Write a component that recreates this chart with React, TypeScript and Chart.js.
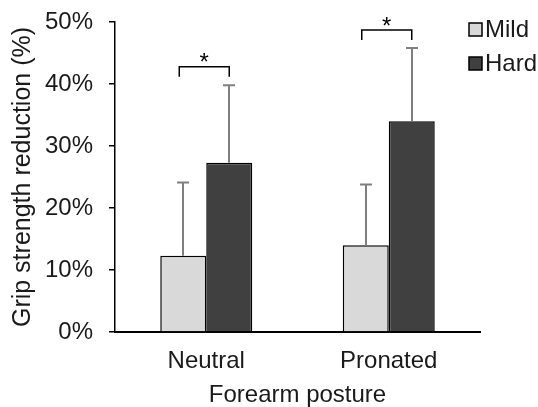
import React, { useEffect, useRef } from "react";
import { Chart, registerables } from "chart.js";

Chart.register(...registerables);

const categories = ["Neutral", "Pronated"];
const seriesNames = ["Mild", "Hard"];
const mildValues = [12.3, 14.0];
const hardValues = [27.3, 34.0];
const mildSD = [11.8, 9.8];
const hardSD = [12.5, 11.8];
const yTicks = [0, 10, 20, 30, 40, 50];
// significance brackets: bracket top value (%) per category
const sigTop = [42.8, 48.7];
const sigLabel = ["*", "*"];

const FONT = "'Liberation Sans', Arial, sans-serif";
const TEXT = "#1a1a1a";
const colors = ["#d9d9d9", "#404040"];

const overlayPlugin = {
  id: "overlay",
  afterDatasetsDraw(chart: any) {
    const ctx = chart.ctx;
    const y = chart.scales.y;
    const sds = [mildSD, hardSD];
    const vals = [mildValues, hardValues];
    // error bars
    ctx.save();
    ctx.strokeStyle = "#7f7f7f";
    ctx.lineWidth = 2;
    [0, 1].forEach((di) => {
      const meta = chart.getDatasetMeta(di);
      meta.data.forEach((bar: any, i: number) => {
        const x = Math.round(bar.x);
        const yTop = y.getPixelForValue(vals[di][i] + sds[di][i]);
        const yBase = y.getPixelForValue(vals[di][i]);
        ctx.beginPath();
        ctx.moveTo(x, yBase);
        ctx.lineTo(x, yTop);
        ctx.moveTo(x - 6, yTop);
        ctx.lineTo(x + 6, yTop);
        ctx.stroke();
      });
    });
    // brackets
    ctx.strokeStyle = "#000";
    ctx.lineWidth = 1.5;
    ctx.fillStyle = "#000";
    ctx.font = `24px ${FONT}`;
    ctx.textAlign = "center";
    ctx.textBaseline = "middle";
    const m0 = chart.getDatasetMeta(0);
    const m1 = chart.getDatasetMeta(1);
    categories.forEach((_, i) => {
      const x1 = m0.data[i].x - 4;
      const x2 = m1.data[i].x;
      const yt = y.getPixelForValue(sigTop[i]);
      const yb = yt + 10;
      ctx.beginPath();
      ctx.moveTo(x1, yb);
      ctx.lineTo(x1, yt);
      ctx.lineTo(x2, yt);
      ctx.lineTo(x2, yb);
      ctx.stroke();
      ctx.fillText(sigLabel[i], (x1 + x2) / 2, yt - 3);
    });
    ctx.restore();
  },
  afterDraw(chart: any) {
    const ctx = chart.ctx;
    ctx.save();
    const bx = chart.chartArea.right - 11;
    const ys = [29.5, 63.5];
    seriesNames.forEach((name, i) => {
      const cy = ys[i];
      ctx.fillStyle = colors[i];
      ctx.fillRect(bx, cy - 6.5, 13, 13);
      ctx.strokeStyle = "#000";
      ctx.lineWidth = 1.5;
      ctx.strokeRect(bx, cy - 6.5, 13, 13);
      ctx.fillStyle = TEXT;
      ctx.font = `24px ${FONT}`;
      ctx.textAlign = "left";
      ctx.textBaseline = "middle";
      ctx.fillText(name, bx + 16, cy + 1);
    });
    ctx.restore();
  },
};

export default function App() {
  const ref = useRef<HTMLCanvasElement | null>(null);
  useEffect(() => {
    if (!ref.current) return;
    const chart = new Chart(ref.current, {
      type: "bar",
      data: {
        labels: categories,
        datasets: [
          {
            label: seriesNames[0],
            data: mildValues,
            backgroundColor: colors[0],
            borderColor: "#000",
            borderWidth: 1.5,
            barPercentage: 1,
            categoryPercentage: 0.504,
          },
          {
            label: seriesNames[1],
            data: hardValues,
            backgroundColor: colors[1],
            borderColor: "#000",
            borderWidth: 1.5,
            barPercentage: 1,
            categoryPercentage: 0.504,
          },
        ],
      },
      options: {
        responsive: false,
        animation: false,
        devicePixelRatio: 1,
        layout: { padding: { top: 22, right: 58, left: 0, bottom: 0 } },
        plugins: { legend: { display: false }, tooltip: { enabled: false } },
        scales: {
          x: {
            grid: { display: true, drawOnChartArea: false, drawTicks: false, color: "#000" },
            border: { color: "#000", width: 2 },
            ticks: { color: TEXT, font: { family: FONT, size: 24 }, padding: 15 },
            title: {
              display: true,
              text: "Forearm posture",
              color: TEXT,
              font: { family: FONT, size: 24, lineHeight: 1 },
              padding: 0,
            },
            afterFit(scale: any) {
              scale.height = 75;
              scale.paddingLeft = 0;
              scale.paddingRight = 0;
            },
          },
          y: {
            min: 0,
            max: 50,
            afterBuildTicks(scale: any) {
              scale.ticks = yTicks.map((v) => ({ value: v }));
            },
            grid: { drawOnChartArea: false, drawTicks: true, tickLength: 6, color: "#000", lineWidth: 1.5 },
            border: { color: "#000", width: 1.5 },
            ticks: {
              color: TEXT,
              font: { family: FONT, size: 24 },
              padding: 16,
              callback: (v: any) => `${v}%`,
            },
            title: {
              display: true,
              text: "Grip strength reduction (%)",
              color: TEXT,
              font: { family: FONT, size: 25, lineHeight: 1.2 },
              padding: { top: 8, bottom: 0 },
            },
            afterFit(scale: any) {
              scale.width = 115;
              scale.paddingTop = 0;
              scale.paddingBottom = 0;
            },
          },
        },
      },
      plugins: [overlayPlugin],
    } as any);
    return () => chart.destroy();
  }, []);
  return (
    <div style={{ position: "absolute", left: 0, top: 0, width: 538, height: 407, background: "#fff" }}>
      <canvas ref={ref} width={538} height={407} />
    </div>
  );
}
